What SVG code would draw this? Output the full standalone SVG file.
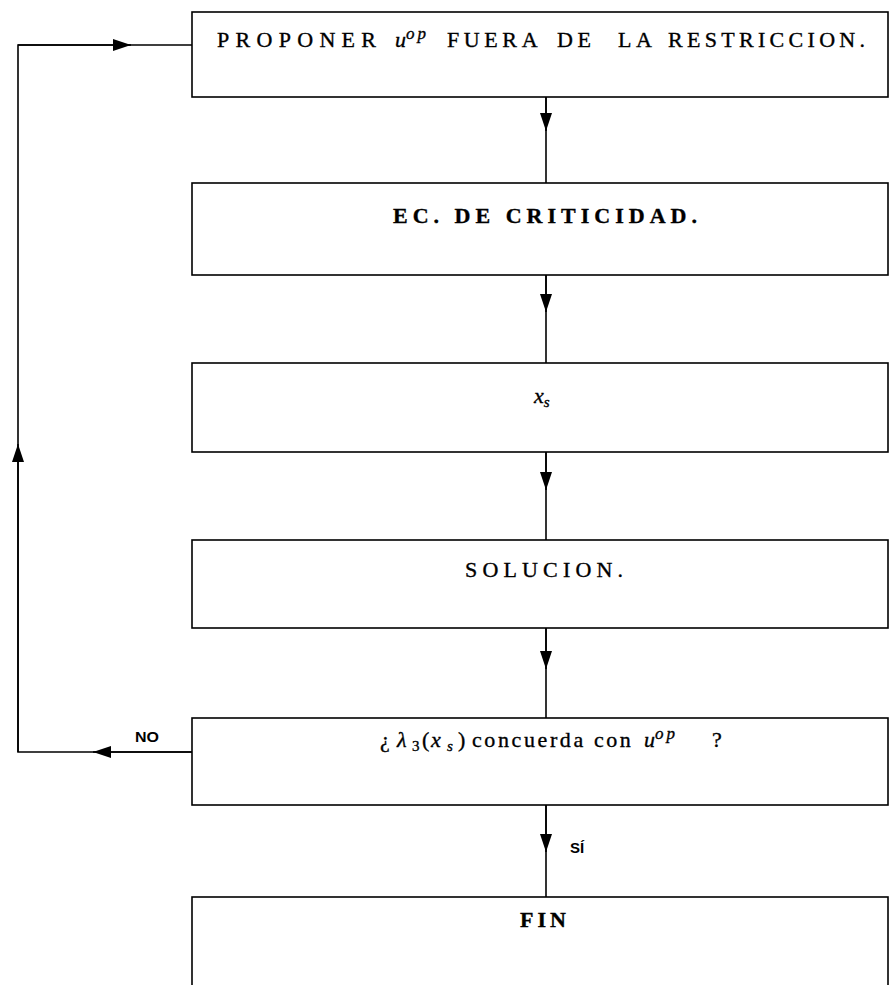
<svg xmlns="http://www.w3.org/2000/svg" width="890" height="985" viewBox="0 0 890 985">
<style>
.box{fill:#fff;stroke:#000;stroke-width:1.6}
.ln{fill:none;stroke:#000;stroke-width:1.6}
.t{font-family:"Liberation Serif","DejaVu Serif",serif;font-size:22px;fill:#000;stroke:#000;stroke-width:0.35}
.it{font-style:italic}
.sup{font-size:17px;font-style:italic}
.lbl{font-family:"Liberation Sans","DejaVu Sans",sans-serif;font-size:15px;font-weight:bold;fill:#000}
</style>
<defs>
<marker id="ah" viewBox="0 0 18 12" refX="18" refY="6" markerWidth="18" markerHeight="12" markerUnits="userSpaceOnUse" orient="auto">
<path d="M0,0 L18,6 L0,12 Z" fill="#000"/>
</marker>
</defs>
<g id="connectors">
<path class="ln" d="M546,97 V183"/>
<path class="ln" d="M546,97 V131" marker-end="url(#ah)"/>
<path class="ln" d="M546,275 V363"/>
<path class="ln" d="M546,275 V312" marker-end="url(#ah)"/>
<path class="ln" d="M546,452 V540"/>
<path class="ln" d="M546,452 V490" marker-end="url(#ah)"/>
<path class="ln" d="M546,628 V718"/>
<path class="ln" d="M546,628 V669" marker-end="url(#ah)"/>
<path class="ln" d="M546,805 V897"/>
<path class="ln" d="M546,805 V852" marker-end="url(#ah)"/>
<path class="ln" d="M192,752 H18 V45 H192"/>
<path class="ln" d="M192,752 H93" marker-end="url(#ah)"/>
<path class="ln" d="M18,752 V444" marker-end="url(#ah)"/>
<path class="ln" d="M18,45 H131" marker-end="url(#ah)"/>
<text class="lbl" x="135" y="742" textLength="24" lengthAdjust="spacingAndGlyphs">NO</text>
<text class="lbl" x="570" y="853" font-size="17">SÍ</text>
</g>
<g id="n1">
<rect class="box" x="192" y="12" width="696" height="85"/>
<text class="t" y="47"><tspan x="217" letter-spacing="6.3">PROPONER</tspan><tspan x="395" class="it">u</tspan><tspan class="sup" dy="-8" letter-spacing="3">op</tspan><tspan x="447" dy="8" letter-spacing="4.6">FUERA</tspan><tspan x="557" letter-spacing="4.6">DE</tspan><tspan x="618" letter-spacing="4.6">LA</tspan><tspan x="668" letter-spacing="4.3">RESTRICCION.</tspan></text>
</g>
<g id="n2">
<rect class="box" x="192" y="183" width="696" height="92"/>
<text class="t" x="393" y="223" font-weight="bold" font-size="23" textLength="304" lengthAdjust="spacing">EC. DE CRITICIDAD.</text>
</g>
<g id="n3">
<rect class="box" x="192" y="363" width="696" height="89"/>
<text class="t it" x="534" y="403" font-size="24">x<tspan font-size="15" dy="4">s</tspan></text>
</g>
<g id="n4">
<rect class="box" x="192" y="540" width="696" height="88"/>
<text class="t" x="465" y="577" font-size="19" textLength="158" lengthAdjust="spacing">SOLUCION.</text>
</g>
<g id="n5">
<rect class="box" x="192" y="718" width="696" height="87"/>
<text class="t" y="747"><tspan x="380">¿</tspan><tspan x="397" class="it">λ</tspan><tspan x="412" font-size="15" dy="4">3</tspan><tspan x="422" dy="-4">(</tspan><tspan x="431" class="it">x</tspan><tspan x="447" font-size="15" class="it" dy="4">s</tspan><tspan x="458" dy="-4">)</tspan><tspan x="472" letter-spacing="2.6">concuerda con</tspan><tspan x="644" class="it">u</tspan><tspan class="sup" dy="-8" letter-spacing="3">op</tspan><tspan x="712" dy="8">?</tspan></text>
</g>
<g id="n6">
<rect class="box" x="192" y="897" width="696" height="100"/>
<text class="t" x="520" y="927" font-weight="bold" textLength="46" lengthAdjust="spacing">FIN</text>
</g>
</svg>
